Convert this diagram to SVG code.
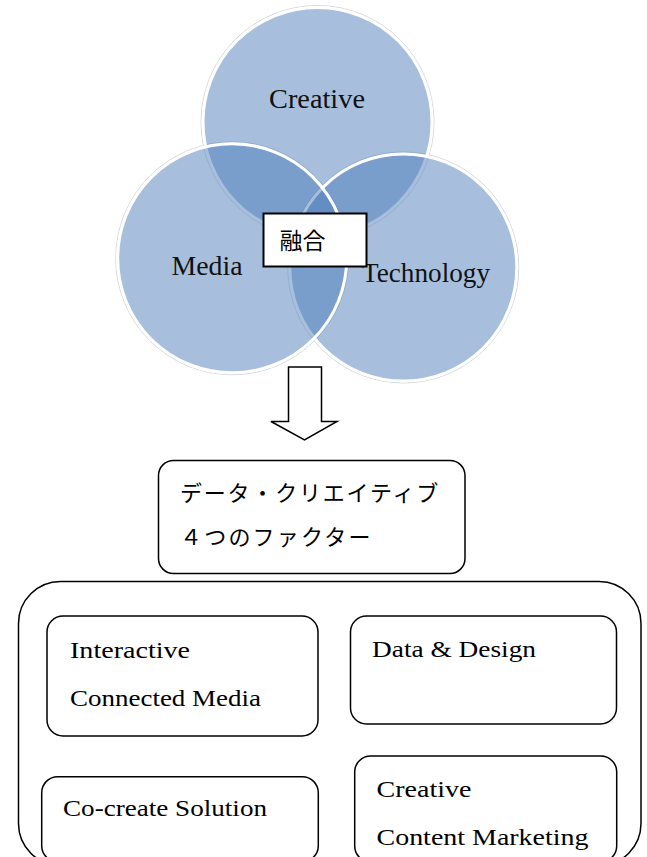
<svg xmlns="http://www.w3.org/2000/svg" width="647" height="857" viewBox="0 0 647 857">
  <style>
    .venn { fill: rgb(75,124,185); fill-opacity: 0.49; stroke: #ffffff; stroke-width: 3; }
    .halo { fill: none; stroke: #d4d9e0; stroke-width: 1; }
    .vlabel { font-family: "Liberation Serif", "Times New Roman", serif; font-size: 27px; fill: #111; }
    .jp { font-family: "Noto Sans CJK JP", "Noto Sans", sans-serif; fill: #000; }
    .box { fill: #ffffff; stroke: #000; stroke-width: 1.5; }
    .label { font-family: "Liberation Serif", "Times New Roman", serif; font-size: 23.5px; fill: #000; }
  </style>

  <rect width="647" height="857" fill="#ffffff"/>

  <!-- faint outline around each circle -->
  <g id="halos">
    <circle class="halo" cx="317.5" cy="122" r="116.5"/>
    <circle class="halo" cx="403.3" cy="267.5" r="115.5"/>
    <circle class="halo" cx="232.2" cy="258.3" r="116.5"/>
  </g>

  <g id="creative">
    <circle class="venn" cx="317.5" cy="122" r="114.5"/>
    <text class="vlabel" x="269" y="108" textLength="96" lengthAdjust="spacingAndGlyphs">Creative</text>
  </g>
  <g id="technology">
    <circle class="venn" cx="403.3" cy="267.5" r="113.5"/>
  </g>
  <g id="media">
    <circle class="venn" cx="232.2" cy="258.3" r="114.5"/>
    <text class="vlabel" x="171.5" y="275" textLength="71" lengthAdjust="spacingAndGlyphs">Media</text>
  </g>
  <text class="vlabel" x="362" y="282" textLength="128" lengthAdjust="spacingAndGlyphs">Technology</text>

  <g id="fusion">
    <rect x="263.5" y="213.5" width="103" height="53" fill="#ffffff" stroke="#000" stroke-width="2"/>
    <text class="jp" x="279.5" y="248.5" font-size="23">融合</text>
  </g>

  <g id="connectors">
    <polygon points="288.5,367 321.5,367 321.5,421.5 337,421.5 304.5,440 271,421.5 288.5,421.5"
             fill="#ffffff" stroke="#000" stroke-width="1.5" stroke-linejoin="miter"/>
  </g>

  <g id="data-creative">
    <rect class="box" x="158.5" y="460.5" width="306.5" height="113" rx="15"/>
    <text class="jp" x="180" y="501" font-size="22" letter-spacing="1.8">データ・クリエイティブ</text>
    <text class="jp" x="180" y="545" font-size="22" letter-spacing="2.2">４つのファクター</text>
  </g>

  <g id="factors">
    <rect class="box" x="18.5" y="581.5" width="622.5" height="284" rx="42"/>
  </g>

  <g id="interactive">
    <rect class="box" x="47" y="616" width="271" height="120" rx="16"/>
    <text class="label" x="70" y="657.5" textLength="120" lengthAdjust="spacingAndGlyphs">Interactive</text>
    <text class="label" x="70" y="706" textLength="191" lengthAdjust="spacingAndGlyphs">Connected Media</text>
  </g>

  <g id="data-design">
    <rect class="box" x="350.5" y="616" width="266" height="108" rx="16"/>
    <text class="label" x="372" y="656.7" textLength="164" lengthAdjust="spacingAndGlyphs">Data &amp; Design</text>
  </g>

  <g id="co-create">
    <rect class="box" x="41.7" y="776.7" width="276.6" height="85" rx="16"/>
    <text class="label" x="63" y="816" textLength="204" lengthAdjust="spacingAndGlyphs">Co-create Solution</text>
  </g>

  <g id="content-marketing">
    <rect class="box" x="354.7" y="756" width="262" height="106" rx="16"/>
    <text class="label" x="376.5" y="796.7" textLength="95" lengthAdjust="spacingAndGlyphs">Creative</text>
    <text class="label" x="376.5" y="845" textLength="212" lengthAdjust="spacingAndGlyphs">Content Marketing</text>
  </g>
</svg>
